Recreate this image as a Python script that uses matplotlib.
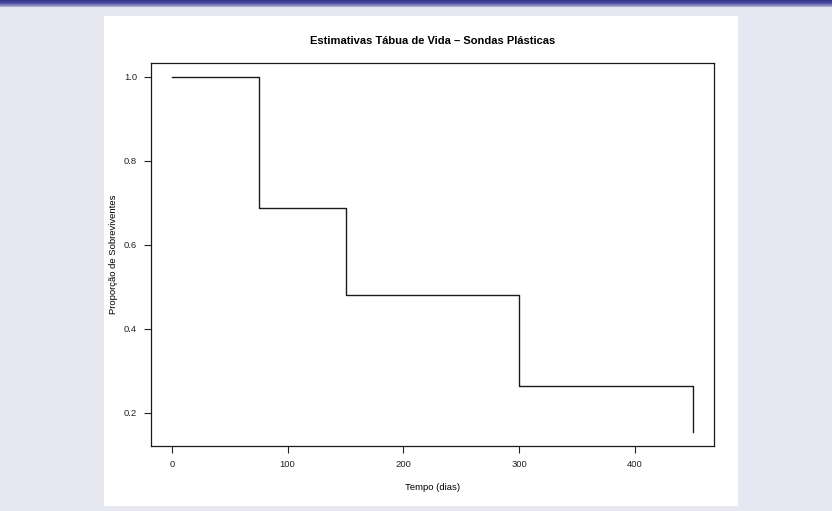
import matplotlib
matplotlib.use("Agg")
import matplotlib.pyplot as plt
import numpy as np

# life table survival estimates, plastic probes
tempo = [0, 75, 150, 300, 450]
sobrevivencia = [1.0, 0.688, 0.481, 0.263, 0.155]
xticks = [0, 100, 200, 300, 400]
yticks = [0.2, 0.4, 0.6, 0.8, 1.0]

plt.rcParams["font.family"] = ["Liberation Sans", "DejaVu Sans"]

W, H = 832, 511
fig = plt.figure(figsize=(W / 100, H / 100), dpi=100)
fig.patch.set_facecolor("#e7e7f1")

# white slide panel
panel = fig.add_axes([104 / W, 1 - 506 / H, (738 - 104) / W, (506 - 16) / H], zorder=-5)
panel.set_facecolor("white")
panel.set_xticks([])
panel.set_yticks([])
for s in panel.spines.values():
    s.set_visible(False)

# header bar gradient
bar = fig.add_axes([0, 1 - 7 / H, 1, 7 / H])
grad = np.linspace(0, 1, 50).reshape(-1, 1)
cmap = matplotlib.colors.LinearSegmentedColormap.from_list("hdr", ["#2c2c86", "#4a4aa0", "#b5b5d8"])
bar.imshow(grad, aspect="auto", cmap=cmap, extent=[0, 1, 0, 1])
bar.axis("off")

ax = fig.add_axes([151 / W, 1 - 446 / H, (713.7 - 151) / W, (446 - 62.7) / H])
ax.set_facecolor("white")
ax.step(tempo, sobrevivencia, where="post", color="#1a1a1a", lw=1.0)

xr = max(tempo) - min(tempo)
yr = max(sobrevivencia) - min(sobrevivencia)
ax.set_xlim(min(tempo) - 0.04 * xr, max(tempo) + 0.04 * xr)
ax.set_ylim(min(sobrevivencia) - 0.04 * yr, max(sobrevivencia) + 0.04 * yr)

ax.set_xticks(xticks)
ax.set_xticklabels([str(v) for v in xticks])
ax.set_yticks(yticks)
ax.set_yticklabels([f"{v:.1f}" for v in yticks])
ax.tick_params(direction="out", length=5, width=0.8, labelsize=6.8,
               colors="#222222", pad=5)
for s in ax.spines.values():
    s.set_linewidth(0.9)
    s.set_color("#1a1a1a")

ax.set_title("Estimativas Tábua de Vida – Sondas Plásticas", fontsize=8,
             fontweight="bold", pad=13.5)
ax.set_xlabel("Tempo (dias)", fontsize=6.8, labelpad=10)
ax.set_ylabel("Proporção de Sobreviventes", fontsize=6.8, labelpad=4)

fig.savefig("out.png", dpi=100, facecolor=fig.get_facecolor())
